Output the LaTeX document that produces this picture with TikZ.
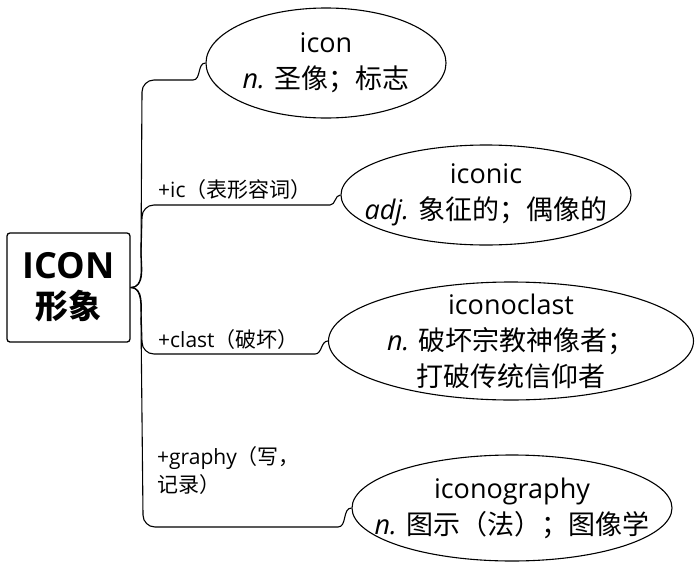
\documentclass[tikz,border=0pt]{standalone}
\usepackage{fontspec}
\setmainfont{Open Sans}
\newfontfamily\cjk{Noto Sans CJK SC}
\usetikzlibrary{shapes.geometric}
\tikzset{
  oval/.style={draw=black, line width=1.1pt, ellipse, inner sep=0pt},
  wtext/.style={inner sep=0pt, align=center, font=\fontsize{27}{36}\selectfont},
  conn/.style={draw=black, line width=1.1pt},
  lbl/.style={anchor=base west, inner sep=0pt, font=\fontsize{21}{28}\selectfont, align=left},
}
\begin{document}
\begin{tikzpicture}[x=1pt,y=-1pt]
\useasboundingbox (0,0) rectangle (697,568);
\node[draw, line width=1.3pt, rounded corners=3pt, minimum width=123pt, minimum height=109pt, align=center, inner sep=0pt] (root) at (68.5,287.5)
  {{\bfseries\fontsize{36}{42}\selectfont ICON}\\[10pt]{\cjk\bfseries\fontsize{33}{40}\selectfont 形象}};

\node[oval, minimum width=240pt, minimum height=110pt] (e1) at (326,63) {};
\node[oval, minimum width=290pt, minimum height=100pt] (e2) at (486,195) {};
\node[oval, minimum width=365pt, minimum height=118pt] (e3) at (511,341) {};
\node[oval, minimum width=320pt, minimum height=106pt] (e4) at (512,508) {};

\node[wtext] (t1) at (e1.center) {icon\\\textit{n.} {\cjk 圣像；标志}};
\node[wtext] (t2) at (e2.center) {iconic\\\textit{adj.} {\cjk 象征的；偶像的}};
\node[wtext] (t3) at (e3.center) {iconoclast\\\textit{n.} {\cjk 破坏宗教神像者；}\\{\cjk 打破传统信仰者}};
\node[wtext] (t4) at (e4.center) {iconography\\\textit{n.} {\cjk 图示（法）；图像学}};

\coordinate (c1) at (193,80);
\coordinate (c2) at (330,205);
\coordinate (c3) at (315,354);
\coordinate (c4) at (338,527);

\draw[conn] (root.east) to[out=0,in=-90] (141,250) -- (142,92) to[out=90,in=180] (154,80) -- (c1) to[out=0,in=180] (e1.west);
\draw[conn] (root.east) to[out=0,in=-90] (141,255) -- (142,217) to[out=90,in=180] (154,205) -- (c2) to[out=0,in=180] (e2.west);
\draw[conn] (root.east) to[out=0,in=90] (141,310) -- (142,342) to[out=-90,in=180] (154,354) -- (c3) to[out=0,in=180] (e3.west);
\draw[conn] (root.east) to[out=0,in=90] (141,320) -- (143,515) to[out=-90,in=180] (155,527) -- (c4) to[out=0,in=180] (e4.west);

\node[lbl] (l2) at (158,197) {+ic{\cjk（表形容词）}};
\node[lbl] (l3) at (158,347) {+clast{\cjk（破坏）}};
\node[lbl] (l4) at (157,492) {+graphy{\cjk（写，}\\{\cjk 记录）}};
\end{tikzpicture}
\end{document}
